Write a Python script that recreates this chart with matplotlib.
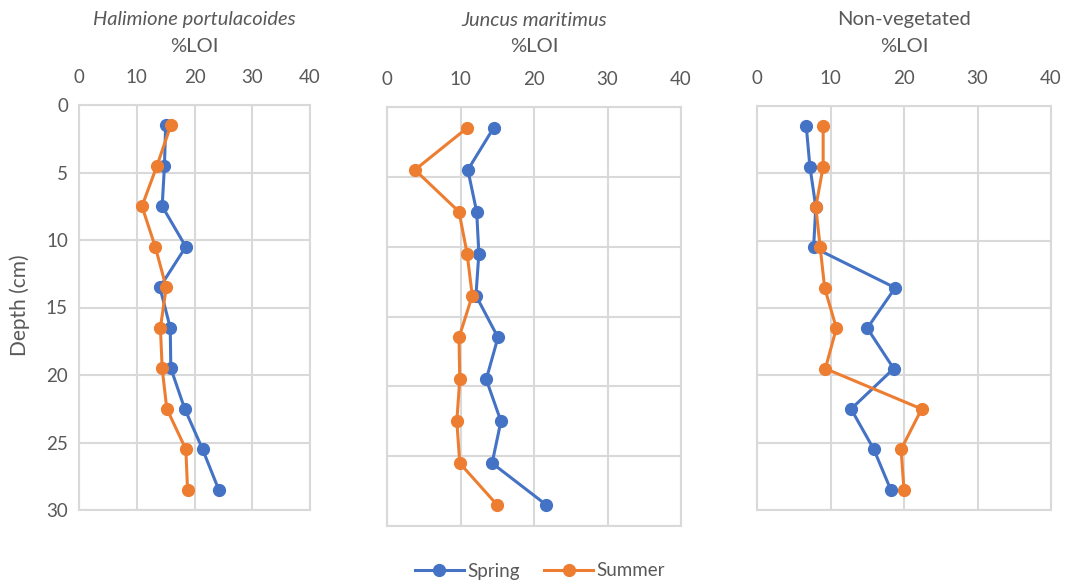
import matplotlib
matplotlib.use("Agg")
import matplotlib.pyplot as plt

depth = [1.5, 4.5, 7.5, 10.5, 13.5, 16.5, 19.5, 22.5, 25.5, 28.5]

panels = ["Halimione portulacoides", "Juncus maritimus", "Non-vegetated"]
italic = [True, True, False]

spring_hal = [15.0, 14.8, 14.4, 18.5, 14.0, 15.8, 15.9, 18.3, 21.4, 24.2]
summer_hal = [15.9, 13.5, 10.9, 13.2, 15.1, 14.1, 14.4, 15.2, 18.5, 18.8]

spring_jun = [14.5, 11.0, 12.2, 12.5, 12.1, 15.1, 13.5, 15.5, 14.3, 21.7]
summer_jun = [10.9, 3.8, 9.8, 10.9, 11.6, 9.8, 9.9, 9.5, 9.9, 15.0]

spring_non = [6.7, 7.2, 8.0, 7.7, 18.8, 15.0, 18.6, 12.8, 15.9, 18.2]
summer_non = [9.0, 9.0, 8.0, 8.6, 9.2, 10.8, 9.3, 22.4, 19.6, 20.0]

xticks = [0, 10, 20, 30, 40]
yticks = [0, 5, 10, 15, 20, 25, 30]
series_names = ["Spring", "Summer"]

BLUE = "#4472C4"
ORANGE = "#ED7D31"
GRAY = "#595959"
GRID = "#D9D9D9"

plt.rcParams['font.family'] = ['Lato', 'DejaVu Sans']

W, H = 1068, 585
fig = plt.figure(figsize=(W / 100, H / 100), dpi=100)

# pixel boxes: left, right, top, bottom
boxes = [(79, 310, 105, 510), (387, 681, 107, 526), (757, 1051, 106, 510)]
data = [(spring_hal, summer_hal), (spring_jun, summer_jun), (spring_non, summer_non)]

for i, ((l, r, t, b), (sp, su)) in enumerate(zip(boxes, data)):
    ax = fig.add_axes([l / W, 1 - b / H, (r - l) / W, (b - t) / H])
    ax.set_xlim(0, 40)
    ax.set_ylim(30, 0)
    ax.set_xticks(xticks)
    ax.set_yticks(yticks)
    ax.xaxis.tick_top()
    ax.tick_params(axis='both', length=0, labelsize=13.5, colors=GRAY, pad=8)
    ax.tick_params(axis='x', pad=14)
    if i != 0:
        ax.set_yticklabels([])
    ax.grid(True, color=GRID, linewidth=1.5)
    ax.set_axisbelow(True)
    for s in ax.spines.values():
        s.set_color(GRID)
        s.set_linewidth(1.5)
    ax.plot(sp, depth, color=BLUE, marker='o', markersize=8.5, linewidth=2.2,
            label=series_names[0], zorder=3)
    ax.plot(su, depth, color=ORANGE, marker='o', markersize=8.5, linewidth=2.2,
            label=series_names[1], zorder=3)
    cx = (l + r) / 2 / W
    fig.text(cx, 1 - 20 / H, panels[i], ha='center', va='center', fontsize=14.5,
             color=GRAY, style='italic' if italic[i] else 'normal')
    fig.text(cx, 1 - 46 / H, "%LOI", ha='center', va='center', fontsize=14.5,
             color=GRAY)
    if i == 0:
        handles, labels = ax.get_legend_handles_labels()

fig.text(20 / W, 1 - 305 / H, "Depth (cm)", rotation=90, ha='center', va='center',
         fontsize=15, color=GRAY)

leg = fig.legend(handles, labels, loc='center', bbox_to_anchor=(540 / W, 1 - 571 / H),
                 ncol=2, frameon=False, fontsize=13.5, handlelength=2.6, columnspacing=1.3,
                 handletextpad=0.2)
for t in leg.get_texts():
    t.set_color(GRAY)

fig.savefig("out.png", dpi=100)
